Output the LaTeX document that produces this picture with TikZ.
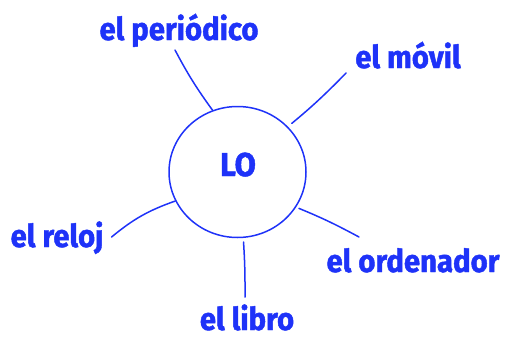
\documentclass[tikz,border=0pt]{standalone}
\usepackage{fontspec}
\setmainfont{Fira Sans}[BoldFeatures={FakeBold=1.4,FakeStretch=0.93}]
\usetikzlibrary{shapes.geometric}
\definecolor{pen}{RGB}{30,50,248}

\begin{document}
\begin{tikzpicture}[x=1pt,y=-1pt,
    pen/.style={draw=pen, line width=1.5pt, line cap=round},
    word/.style={text=pen, font=\fontsize{31.5}{31.5}\selectfont\bfseries, inner sep=0pt, anchor=base}]
  \useasboundingbox (0,0) rectangle (507,338);

  % the circle in the middle
  \node[ellipse, pen, minimum width=137pt, minimum height=131pt, inner sep=0pt] (lo) at (237.5,172) {};
  \node[word, font=\fontsize{33}{33}\selectfont\bfseries] (lotext) at (238,176) {LO};

  % the words round it
  \node[word] (periodico) at (179,40) {el periódico};
  \node[word] (movil) at (408,68) {el móvil};
  \node[word] (reloj) at (57,247) {el reloj};
  \node[word] (ordenador) at (413,272) {el ordenador};
  \node[word] (libro) at (247,330) {el libro};

  \draw[pen] ([xshift=-4pt,yshift=-10pt]periodico.base)
    to [bend right=4] (lo.112);
  \draw[pen, shorten >=5pt] ([xshift=-9pt,yshift=-5pt]movil.base west)
    to [bend left=3] (lo.42);
  \draw[pen] ([xshift=8pt,yshift=10pt]reloj.base east)
    to [bend left=10] (lo.205);
  \draw[pen, shorten >=3pt] ([xshift=-54pt,yshift=35pt]ordenador.base)
    to [bend right=3] (lo.329);
  \draw[pen, shorten >=4pt] ([xshift=-2pt,yshift=33pt]libro.base)
    to [bend right=2] (lo.275);

\end{tikzpicture}
\end{document}
